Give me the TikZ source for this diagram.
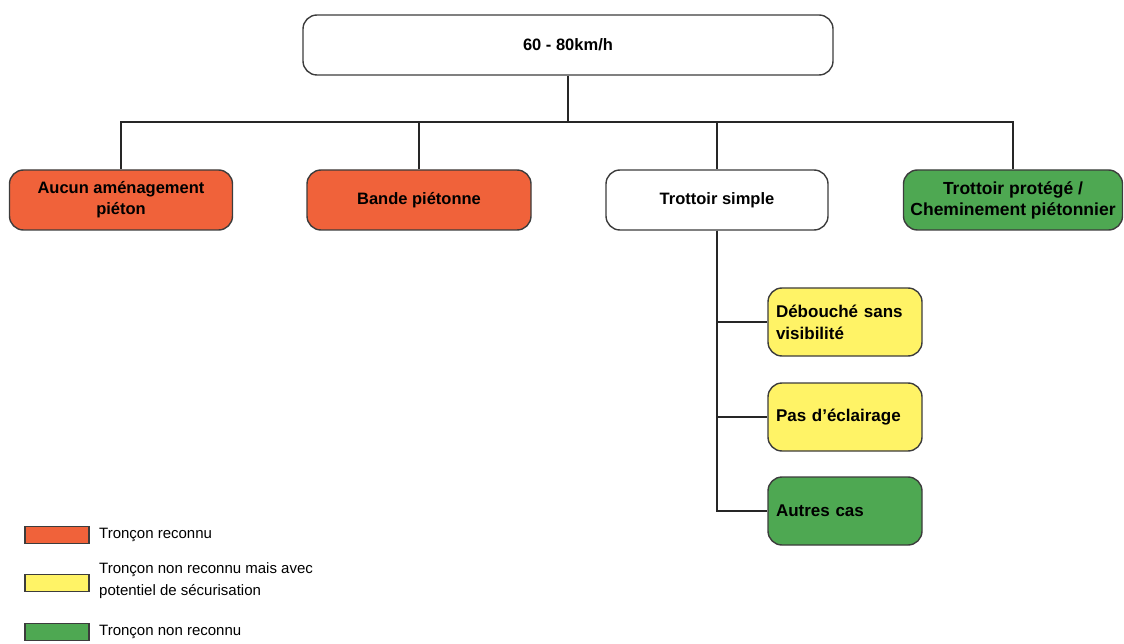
\documentclass[tikz,border=0pt]{standalone}
\usepackage{fontspec}
\setmainfont{Liberation Sans}
\usetikzlibrary{positioning}

\definecolor{reconnu}{RGB}{240,98,58}
\definecolor{potentiel}{RGB}{255,243,102}
\definecolor{nonreconnu}{RGB}{78,168,82}
\definecolor{bord}{RGB}{60,60,60}

\tikzset{
  box/.style={draw=bord,line width=1.4pt,rounded corners=14pt,align=center,
    font=\bfseries\fontsize{16.5}{21}\selectfont,minimum height=60pt},
  subbox/.style={box,align=left,text width=138pt,inner xsep=8pt,minimum height=68pt,
    font=\bfseries\fontsize{17}{22}\selectfont},
  swatch/.style={draw=bord,line width=1.8pt,minimum width=64pt,minimum height=17pt,inner sep=0pt},
  legtext/.style={anchor=west,align=left,font=\fontsize{15}{22}\selectfont,inner sep=0pt},
  link/.style={draw=black!85,line width=1.2pt}
}

\begin{document}
\begin{tikzpicture}[x=1pt,y=-1pt]
    \useasboundingbox (0,0) rectangle (1124,644);

    \node[box,minimum width=530pt] (vitesse) at (568,45) {60 - 80km/h};
    \coordinate (split) at (568,122);

    \node[box,fill=reconnu,minimum width=223pt] (aucun) at (121,200) {Aucun aménagement\\piéton};
    \node[box,fill=reconnu,minimum width=224pt] (bande) at (419,200) {Bande piétonne};
    \node[box,fill=white,minimum width=222pt] (simple) at (717,200) {Trottoir simple};
    \node[box,fill=nonreconnu,minimum width=219pt,inner xsep=2pt,
      font=\bfseries\fontsize{17.5}{21}\selectfont] (protege) at (1013,200) {Trottoir protégé /\\Cheminement piétonnier};

    \node[subbox,fill=potentiel] (debouche) at (845,322) {Débouché sans\\visibilité};
    \node[subbox,fill=potentiel] (eclairage) at (845,417) {Pas d'éclairage};
    \node[subbox,fill=nonreconnu] (autres) at (845,511) {Autres cas};

    \draw[link] (vitesse.south) -- (split);
    \foreach \to in {aucun,bande,simple,protege}
    \draw[link] (split) -| (\to.north);

    \foreach \to in {debouche,eclairage,autres}
    \draw[link] (simple.south) |- (\to.west);

    % legende
    \node[swatch,fill=reconnu] (legrouge) at (57,535) {};
    \node[swatch,fill=potentiel] (legjaune) at (57,583) {};
    \node[swatch,fill=nonreconnu] (legvert) at (57,632) {};

    \node[legtext] (txtrouge) at (99,535) {Tronçon reconnu};
    \node[legtext] (txtjaune) at (99,581) {Tronçon non reconnu mais avec\\potentiel de sécurisation};
    \node[legtext] (txtvert) at (99,632) {Tronçon non reconnu};
\end{tikzpicture}
\end{document}
